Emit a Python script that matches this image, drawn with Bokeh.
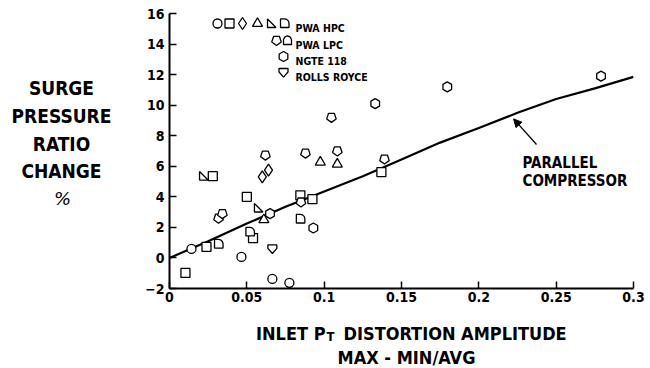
import numpy as np
from bokeh.plotting import figure
from bokeh.models import Range1d, Label, Arrow, NormalHead, FixedTicker
from bokeh.layouts import row, column
from bokeh.core.properties import value
from bokeh.embed import file_html
from bokeh.resources import INLINE

# ---------------- data ----------------
x_ticks = [0, 0.05, 0.1, 0.15, 0.2, 0.25, 0.3]
x_tick_labels = ["0", "0.05", "0.1", "0.15", "0.2", "0.25", "0.3"]
y_ticks = [-2, 0, 2, 4, 6, 8, 10, 12, 14, 16]

curve_x = [0, 0.025, 0.05, 0.075, 0.1, 0.125, 0.15, 0.175, 0.2, 0.225, 0.25, 0.275, 0.3]
curve_y = [0, 1.1, 2.25, 3.35, 4.35, 5.35, 6.45, 7.55, 8.5, 9.5, 10.4, 11.1, 11.85]

hpc_circle_x = [0.0142, 0.0465, 0.0665, 0.0775]
hpc_circle_y = [0.59, 0.07, -1.37, -1.63]
hpc_square_x = [0.0103, 0.0239, 0.028, 0.054, 0.050, 0.0846, 0.0924, 0.137]
hpc_square_y = [-0.98, 0.72, 5.36, 1.3, 4.0, 4.1, 3.85, 5.62]
hpc_diamond_x = [0.060, 0.064]
hpc_diamond_y = [5.3, 5.75]
hpc_triangle_x = [0.061, 0.0975, 0.1085]
hpc_triangle_y = [2.5, 6.27, 6.14]
hpc_rtri_x = [0.022, 0.0575]
hpc_rtri_y = [5.36, 3.27]
hpc_d_x = [0.0317, 0.052, 0.0846]
hpc_d_y = [0.91, 1.7, 2.55]
lpc_pent_x = [0.0317, 0.0342, 0.062, 0.0879, 0.085, 0.1047, 0.1085, 0.139]
lpc_pent_y = [2.6, 2.9, 6.73, 6.86, 3.66, 9.2, 7.0, 6.47]
ngte_x = [0.065, 0.093, 0.133, 0.1796, 0.279]
ngte_y = [2.9, 1.96, 10.1, 11.2, 11.9]
rr_x = [0.0665]
rr_y = [0.59]

legend_labels = ["PWA HPC", "PWA LPC", "NGTE 118", "ROLLS ROYCE"]
curve_label = ["PARALLEL", "COMPRESSOR"]
y_title = ["SURGE", "PRESSURE", "RATIO", "CHANGE"]
y_title_unit = "%"
x_title_1 = ["INLET P", "T", "DISTORTION AMPLITUDE"]
x_title_2 = "MAX - MIN/AVG"

# ---------------- layout ----------------
W, H = 650, 368
LEFT_W = 130           # width of the left title panel
MAIN_H = 310           # height of the main plot
X0, X1, Y0, Y1 = 0.0, 0.3, -2.0, 16.0
FL, FT, FW, FH = 169, 13, 464, 275   # frame position on the page
SX = FW / (X1 - X0)
SY = FH / (Y1 - Y0)
FONT = "DejaVu Sans Condensed"


def cx(px):
    return X0 + (px - FL) / SX


def cy(py):
    return Y1 - (py - FT) / SY


def blank_fig(w, h):
    f = figure(width=w, height=h, output_backend="svg", toolbar_location=None,
               x_range=Range1d(0, w), y_range=Range1d(h, 0),
               min_border=0)
    f.axis.visible = False
    f.grid.visible = False
    f.outline_line_color = None
    f.background_fill_color = "white"
    f.border_fill_color = "white"
    return f


p = figure(width=W - LEFT_W, height=MAIN_H, output_backend="svg", toolbar_location=None,
           x_range=Range1d(X0, X1), y_range=Range1d(Y0, Y1),
           min_border_left=FL - LEFT_W, min_border_right=W - FL - FW,
           min_border_top=FT, min_border_bottom=MAIN_H - FT - FH)
p.outline_line_color = None
p.grid.visible = False
p.background_fill_color = "white"
p.border_fill_color = "white"

for ax in (p.xaxis[0], p.yaxis[0]):
    ax.axis_line_width = 2
    ax.axis_line_color = "black"
    ax.major_tick_in = 7
    ax.major_tick_out = 0
    ax.major_tick_line_width = 1.5
    ax.minor_tick_line_color = None
    ax.major_label_text_font = FONT
    ax.major_label_text_font_style = "bold"
    ax.major_label_text_color = "black"

p.xaxis.ticker = FixedTicker(ticks=x_ticks)
p.xaxis.major_label_overrides = {t: l for t, l in zip(x_ticks, x_tick_labels)}
p.xaxis.major_label_text_font_size = "14px"
p.xaxis.major_label_standoff = 3
p.yaxis.ticker = FixedTicker(ticks=y_ticks)
p.yaxis.major_label_text_font_size = "14px"
p.yaxis.major_label_standoff = 5

# curve
p.line(curve_x, curve_y, line_color="black", line_width=2.2)

# shapes (pixel offsets, y up)
def reg_poly(n, r, start_deg):
    a = np.deg2rad(start_deg + 360.0 * np.arange(n) / n)
    return list(zip(r * np.cos(a), r * np.sin(a)))

SHAPES = {
    "rtri": [(-4, -4), (4.5, -4), (-4, 4.5)],
    "dshape": [(-4, -4), (4.5, -4), (4.5, 0.5), (3.8, 2.6), (2.2, 4.1), (0, 4.6), (-4, 4.6)],
    "pentdown": reg_poly(5, 5.0, -90),
    "pentup": [(-4, -4), (4, -4), (4, 1), (2.5, 3.6), (0, 4.6), (-2.5, 3.6), (-4, 1)],
    "shield": [(-4.5, 4), (4.5, 4), (4.5, 0.5), (0, -4.6), (-4.5, 0.5)],
}
LW = 1.3


def draw_shape(xs, ys, kind):
    if kind in ("circle", "square", "diamond", "triangle", "hex"):
        size = {"circle": 9, "square": 9, "diamond": 12, "triangle": 10, "hex": 10}[kind]
        ang = np.pi / 6 if kind == "hex" else 0
        p.scatter(xs, ys, marker=kind, size=size, angle=ang, fill_color="white",
                  line_color="black", line_width=LW)
    else:
        tpl = SHAPES[kind]
        pxs = [[x + dx / SX for dx, dy in tpl] for x in xs]
        pys = [[y + dy / SY for dx, dy in tpl] for y in ys]
        p.patches(pxs, pys, fill_color="white", line_color="black", line_width=LW)


draw_shape(hpc_circle_x, hpc_circle_y, "circle")
draw_shape(hpc_square_x, hpc_square_y, "square")
draw_shape(hpc_diamond_x, hpc_diamond_y, "diamond")
draw_shape(hpc_triangle_x, hpc_triangle_y, "triangle")
draw_shape(hpc_rtri_x, hpc_rtri_y, "rtri")
draw_shape(hpc_d_x, hpc_d_y, "dshape")
draw_shape(lpc_pent_x, lpc_pent_y, "pentdown")
draw_shape(ngte_x, ngte_y, "hex")
draw_shape(rr_x, rr_y, "shield")

# legend (layout positions in page pixels)
legend_rows = [
    (23, [(217, "circle"), (229, "square"), (242, "diamond"), (257, "triangle"), (271, "rtri"), (284, "dshape")]),
    (40, [(276, "pentdown"), (287, "pentup")]),
    (56, [(283, "hex")]),
    (72, [(283, "shield")]),
]
for (ry, syms), lab in zip(legend_rows, legend_labels):
    for sxp, kind in syms:
        draw_shape([cx(sxp)], [cy(ry)], kind)
    p.add_layout(Label(x=cx(295), y=cy(ry + 4), text=lab, text_font=FONT,
                       text_font_style="bold", text_font_size="10.5px",
                       text_color="black", text_align="left", text_baseline="alphabetic"))

# arrow + curve label
ax_head = 0.2225
ay_head = float(np.interp(ax_head, curve_x, curve_y)) - 0.3
p.add_layout(Arrow(x_start=cx(536), y_start=cy(144), x_end=ax_head, y_end=ay_head,
                   line_width=1.3, line_color="black",
                   end=NormalHead(size=8, fill_color="black", line_color="black")))
for txt, by in zip(curve_label, (162, 180)):
    p.add_layout(Label(x=cx(522), y=cy(by), text=txt, text_font=FONT,
                       text_font_style="bold", text_font_size="15px",
                       text_color="black", text_align="left", text_baseline="alphabetic"))

# left title panel
left = blank_fig(LEFT_W, MAIN_H)
left.text(x=[61] * len(y_title), y=[84, 115, 147, 178], text=y_title,
          text_font=value(FONT), text_font_style="bold", text_font_size="19px",
          text_color="black", text_align="center", text_baseline="alphabetic")
left.text(x=[62], y=[209], text=[y_title_unit], text_font=value("DejaVu Sans"),
          text_font_style="italic", text_font_size="18px",
          text_color="black", text_align="center", text_baseline="alphabetic")

# bottom title panel
BOT_H = H - MAIN_H
bottom = blank_fig(W, BOT_H)
bottom.text(x=[325], y=[333 - MAIN_H], text=[x_title_1[0]], text_font=value(FONT),
            text_font_style="bold", text_font_size="18px", text_color="black",
            text_align="right", text_baseline="alphabetic")
bottom.text(x=[326], y=[336 - MAIN_H], text=[x_title_1[1]], text_font=value(FONT),
            text_font_style="bold", text_font_size="13px", text_color="black",
            text_align="left", text_baseline="alphabetic")
bottom.text(x=[343], y=[333 - MAIN_H], text=[x_title_1[2]], text_font=value(FONT),
            text_font_style="bold", text_font_size="18px", text_color="black",
            text_align="left", text_baseline="alphabetic")
bottom.text(x=[406], y=[357 - MAIN_H], text=[x_title_2], text_font=value(FONT),
            text_font_style="bold", text_font_size="18px", text_color="black",
            text_align="center", text_baseline="alphabetic")

layout = column(row(left, p), bottom)
open("out.html", "w").write(file_html(layout, INLINE))
